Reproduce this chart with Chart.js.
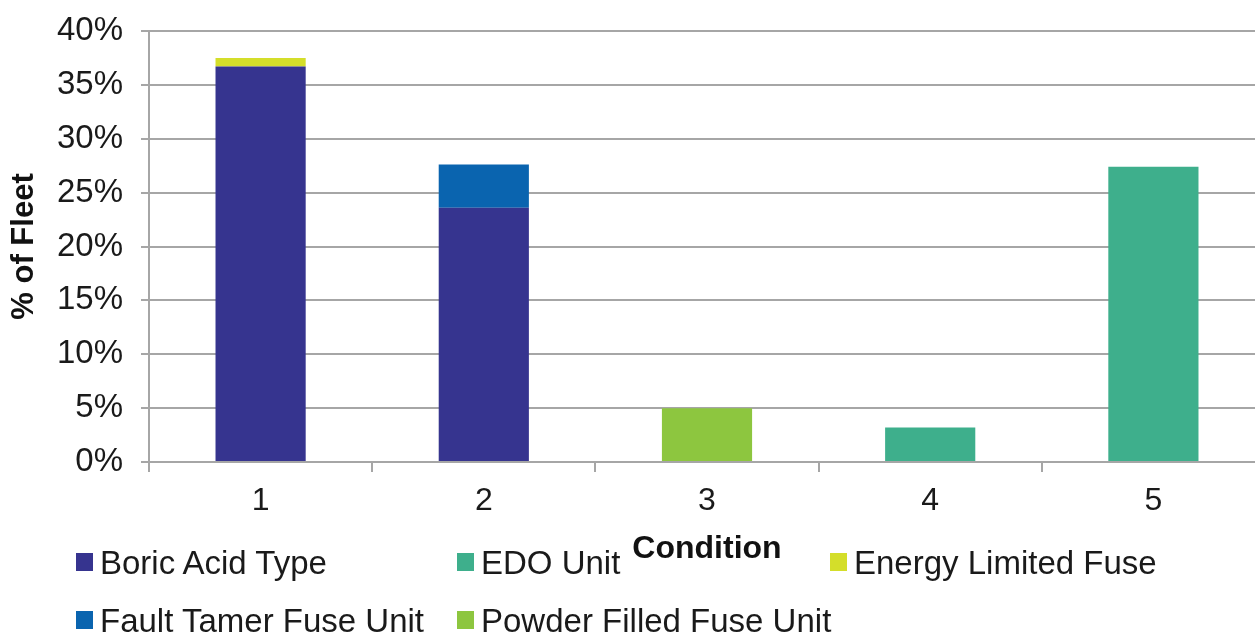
<!DOCTYPE html>
<html>
<head>
<meta charset="utf-8">
<script src="https://cdn.jsdelivr.net/npm/chart.js@4/dist/chart.umd.min.js"></script>
<style>
  html, body { margin: 0; padding: 0; background: #fff; overflow: hidden; }
  #wrap { position: relative; width: 1255px; height: 634px; overflow: hidden; }
  #legend { position: absolute; left: 0; top: 0; width: 1255px; height: 634px; pointer-events: none;
    font-family: "Liberation Sans", Arial, sans-serif; font-size: 33px; color: #1a1a1a; }
  .item { position: absolute; white-space: nowrap; line-height: 1; }
  .item span.box { position: absolute; left: 0; width: 17px; height: 18px; }
  .item span.txt { position: absolute; left: 24px; }
</style>
</head>
<body>
<div id="wrap">
  <canvas id="chart" width="1268" height="634"></canvas>
  <div id="legend"></div>
</div>
<script>
// conditions on the x axis
const conditions = ["1", "2", "3", "4", "5"];

// % of fleet per fuse type, one value per condition (null = none)
const boricAcid     = [36.7, 23.6, null, null, null];
const edoUnit       = [null, null, null, 3.2, 27.4];
const energyLimited = [0.8, null, null, null, null];
const faultTamer    = [null, 4.0, null, null, null];
const powderFilled  = [null, null, 5.0, null, null];

const seriesNames  = ["Boric Acid Type", "EDO Unit", "Energy Limited Fuse", "Fault Tamer Fuse Unit", "Powder Filled Fuse Unit"];
const seriesColors = ["#36348f", "#3eaf8c", "#d4de2a", "#0a64af", "#8dc63f"];
const yTicks = [0, 5, 10, 15, 20, 25, 30, 35, 40];

const font = "'Liberation Sans', Arial, sans-serif";
const gridGray = "#a6a6a6";

const ctx = document.getElementById('chart').getContext('2d');
new Chart(ctx, {
    type: 'bar',
    data: {
        labels: conditions,
        datasets: [boricAcid, edoUnit, energyLimited, faultTamer, powderFilled].map((d, i) => ({
            label: seriesNames[i],
            data: d,
            backgroundColor: seriesColors[i],
            borderWidth: 0,
            categoryPercentage: 1,
            barPercentage: 0.404
        }))
    },
    options: {
        responsive: false,
        animation: false,
        layout: { padding: { left: 0, right: 3, top: 31, bottom: 0 } },
        plugins: { legend: { display: false }, tooltip: { enabled: false } },
        scales: {
            x: {
                stacked: true,
                afterFit: s => { s.height = 172; },
                grid: { offset: true, drawOnChartArea: false, drawTicks: true, tickLength: 10, color: gridGray, lineWidth: 2 },
                border: { display: true, color: gridGray, width: 2 },
                ticks: { color: '#1a1a1a', font: { family: font, size: 32 }, padding: 10 },
                title: { display: true, text: 'Condition', color: '#111', font: { family: font, size: 32, weight: 'bold' },
                    padding: { top: 0, bottom: 66 } }
            },
            y: {
                stacked: true,
                min: 0, max: 40,
                afterFit: s => { s.width = 149; s.paddingTop = 0; s.paddingBottom = 0; },
                afterBuildTicks: s => { s.ticks = yTicks.map(v => ({ value: v })); },
                grid: { color: gridGray, lineWidth: 2, tickLength: 8 },
                border: { display: true, color: gridGray, width: 2 },
                ticks: { color: '#1a1a1a', font: { family: font, size: 33 }, padding: 18, callback: v => v + '%' },
                title: { display: true, text: '% of Fleet', color: '#111', font: { family: font, size: 31, weight: 'bold' },
                    padding: { top: 6, bottom: 0 } }
            }
        }
    }
});

// legend laid out in fixed columns below the axis, like the original
const legendPos = [[76, 562], [457, 562], [830, 562], [76, 620], [457, 620]];
const legend = document.getElementById('legend');
seriesNames.forEach((name, i) => {
    const el = document.createElement('div');
    el.className = 'item';
    el.style.left = legendPos[i][0] + 'px';
    el.style.top = (legendPos[i][1] - 16) + 'px';
    el.innerHTML = `<span class="box" style="background:${seriesColors[i]};top:7px"></span><span class="txt">${name}</span>`;
    legend.appendChild(el);
});
</script>
</body>
</html>
